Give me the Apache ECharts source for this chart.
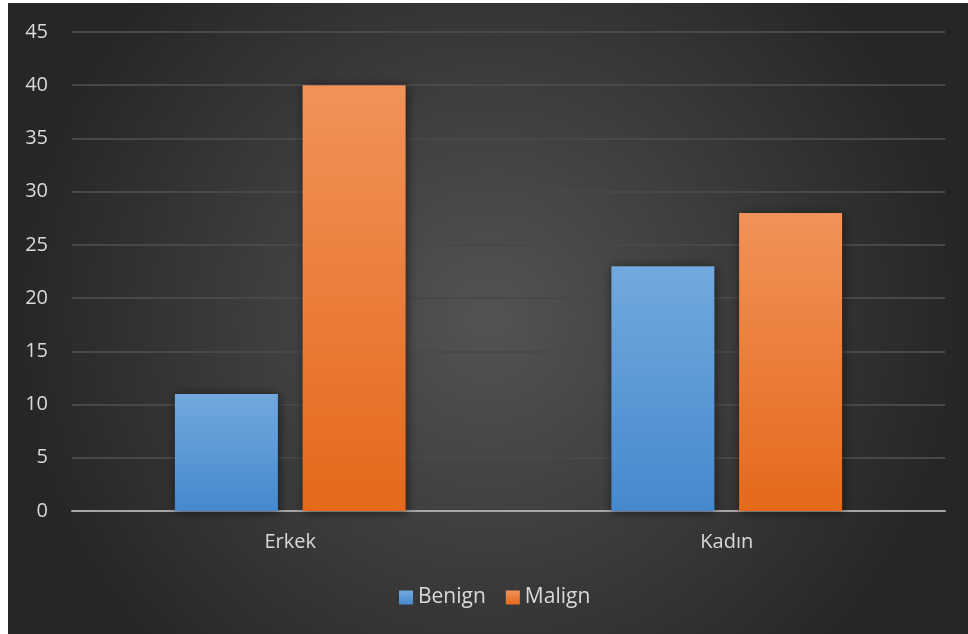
<!DOCTYPE html>
<html>
<head>
<meta charset="utf-8">
<script src="https://cdn.jsdelivr.net/npm/echarts@6/dist/echarts.min.js"></script>
<style>
  html, body { margin: 0; padding: 0; background: #ffffff; }
  #chart { position: absolute; left: 8px; top: 3px; width: 960px; height: 631px; }
</style>
</head>
<body>
<div id="chart"></div>
<script>
// Patient counts by sex and tumour type
const categories = ['Erkek', 'Kadın'];
const benign = [11, 23];
const malign = [40, 28];
const yTicks = { min: 0, max: 45, interval: 5 };

const font = '"Open Sans", "DejaVu Sans", sans-serif';
const textColor = '#d9d9d9';

function vGrad(top, bottom) {
  return {
    type: 'linear', x: 0, y: 0, x2: 0, y2: 1,
    colorStops: [{ offset: 0, color: top }, { offset: 1, color: bottom }]
  };
}

const chart = echarts.init(document.getElementById('chart'));
chart.setOption({
  animation: false,
  backgroundColor: {
    type: 'radial', x: 0.5, y: 0.5, r: 0.75,
    colorStops: [
      { offset: 0, color: '#535353' },
      { offset: 1, color: '#262626' }
    ]
  },
  grid: { left: 64, right: 23, top: 29, bottom: 123, containLabel: false },
  legend: {
    data: ['Benign', 'Malign'],
    bottom: 21,
    left: 386,
    icon: 'rect',
    itemWidth: 14,
    itemHeight: 14,
    itemGap: 20,
    textStyle: { color: textColor, fontSize: 21, fontFamily: font }
  },
  xAxis: {
    type: 'category',
    data: categories,
    axisTick: { show: false },
    axisLine: { lineStyle: { color: '#a6a6a6', width: 2 } },
    axisLabel: { color: textColor, fontSize: 20, fontFamily: font, margin: 21 }
  },
  yAxis: {
    type: 'value',
    min: yTicks.min, max: yTicks.max, interval: yTicks.interval,
    axisLine: { show: false },
    axisTick: { show: false },
    axisLabel: { color: textColor, fontSize: 20, fontFamily: font, margin: 24 },
    splitLine: { lineStyle: { color: '#484848', width: 2 } }
  },
  series: [
    {
      name: 'Benign', type: 'bar', data: benign,
      barWidth: 103, barGap: '24%',
      itemStyle: {
        color: vGrad('#72a9de', '#4589cd'),
        shadowBlur: 10, shadowColor: 'rgba(0,0,0,0.55)', shadowOffsetX: 1, shadowOffsetY: 1
      }
    },
    {
      name: 'Malign', type: 'bar', data: malign,
      barWidth: 103, barGap: '24%',
      itemStyle: {
        color: vGrad('#f2925a', '#e4691a'),
        shadowBlur: 10, shadowColor: 'rgba(0,0,0,0.55)', shadowOffsetX: 1, shadowOffsetY: 1
      }
    }
  ]
});
</script>
</body>
</html>
